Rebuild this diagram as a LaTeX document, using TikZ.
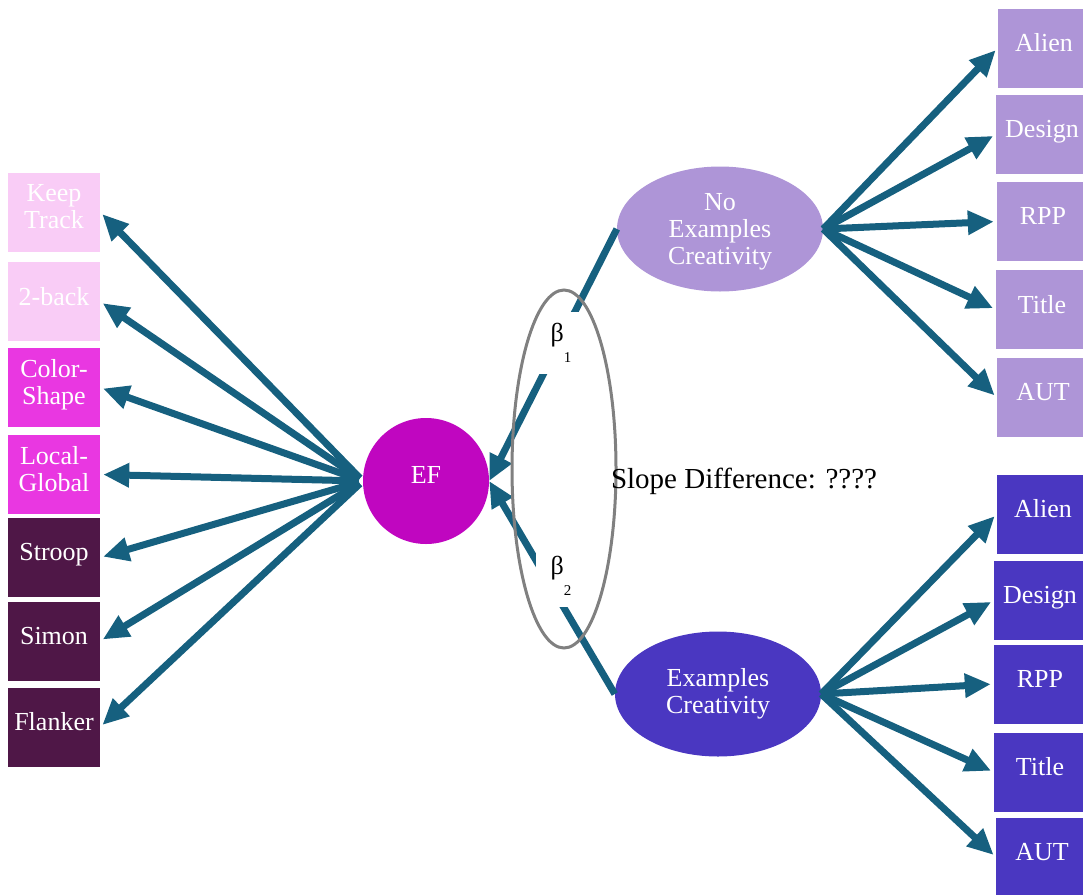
\documentclass[tikz,border=0pt]{standalone}
\usepackage{fontspec}
\setmainfont{Liberation Serif}
\usetikzlibrary{arrows.meta,shapes.geometric}

\definecolor{linkblue}{HTML}{16607F}
\definecolor{paleorchid}{HTML}{F9CCF6}
\definecolor{brightorchid}{HTML}{E937E1}
\definecolor{plum}{HTML}{4F1747}
\definecolor{lavender}{HTML}{AE95D7}
\definecolor{indigoblue}{HTML}{4A37C1}
\definecolor{efmagenta}{HTML}{C006C0}
\definecolor{ringgray}{HTML}{808080}

\begin{document}
\begin{tikzpicture}[x=1pt,y=-1pt,
  txt/.style={text=white, align=center, inner sep=0pt,
    font=\fontsize{26}{27}\selectfont},
  taskbox/.style={txt, rectangle, minimum width=92pt, minimum height=79pt,
    text depth=11pt},
  latent/.style={txt, ellipse, minimum width=206pt, minimum height=125pt},
  link/.style={draw=linkblue, line width=7pt,
    -{Triangle[length=26pt,width=23pt]}, shorten >=3pt},
  coef/.style={fill=white, inner sep=0pt, minimum width=50pt, minimum height=62pt,
    font=\fontsize{26}{27}\selectfont},
]
\useasboundingbox (0,0) rectangle (1083,894);
\clip (0,0) rectangle (1083,894);

% executive-function tasks
\node[taskbox, fill=paleorchid]   (kt) at (54,212)   {Keep\\Track};
\node[taskbox, fill=paleorchid]   (tb) at (54,301.5) {2-back};
\node[taskbox, fill=brightorchid] (cs) at (54,387.5) {Color-\\Shape};
\node[taskbox, fill=brightorchid] (lg) at (54,474.5) {Local-\\Global};
\node[taskbox, fill=plum]         (st) at (54,557.5) {Stroop};
\node[taskbox, fill=plum]         (si) at (54,641)   {Simon};
\node[taskbox, fill=plum]         (fl) at (54,727)   {Flanker};

% latent factors
\node[txt, circle, minimum size=126pt, fill=efmagenta, text depth=12pt]
  (ef) at (426,481) {EF};
\node[latent, fill=lavender, text depth=0pt] (ne) at (720,229)
  {No\\Examples\\Creativity};
\node[latent, fill=indigoblue] (ex) at (718,694) {Examples\\Creativity};

% creativity tasks, no-examples condition
\node[taskbox, fill=lavender] (na) at (1044,48)    {Alien};
\node[taskbox, fill=lavender] (nd) at (1042,134.5) {Design};
\node[taskbox, fill=lavender] (nr) at (1043,221.5) {RPP};
\node[taskbox, fill=lavender] (nt) at (1042,309.5) {Title};
\node[taskbox, fill=lavender] (nu) at (1043,397.5) {AUT};

% creativity tasks, examples condition
\node[taskbox, fill=indigoblue] (xa) at (1043,514)   {Alien};
\node[taskbox, fill=indigoblue] (xd) at (1040,600.5) {Design};
\node[taskbox, fill=indigoblue] (xr) at (1040,684)   {RPP};
\node[taskbox, fill=indigoblue] (xt) at (1040,772)   {Title};
\node[taskbox, fill=indigoblue] (xu) at (1042,857)   {AUT};

% loadings
\foreach \t in {kt,tb,cs,lg,st,si,fl}
  \draw[link, shorten <=4pt] (ef.west) -- (\t.east);
\foreach \t in {na,nd,nr,nt,nu}
  \draw[link] (ne.east) -- (\t.west);
\foreach \t in {xa,xd,xr,xt,xu}
  \draw[link] (ex.east) -- (\t.west);

% regression paths onto EF
\draw[link, shorten >=0pt] (ne.west) -- (ef.east);
\draw[link, shorten >=0pt] (ex.west) -- (ef.east);

% path coefficients
\node[coef] (b1) at (561,343)
  {β\raisebox{-21pt}{\fontsize{15}{15}\selectfont 1}};
\node[coef] (b2) at (561,576)
  {β\raisebox{-21pt}{\fontsize{15}{15}\selectfont 2}};

% comparison of the two slopes
\draw[ringgray, line width=3pt] (564,469) ellipse [x radius=52, y radius=179];
\node[font=\fontsize{29}{30}\selectfont, inner sep=0pt] (sd) at (744,481)
  {Slope Difference: ????};
\end{tikzpicture}
\end{document}
